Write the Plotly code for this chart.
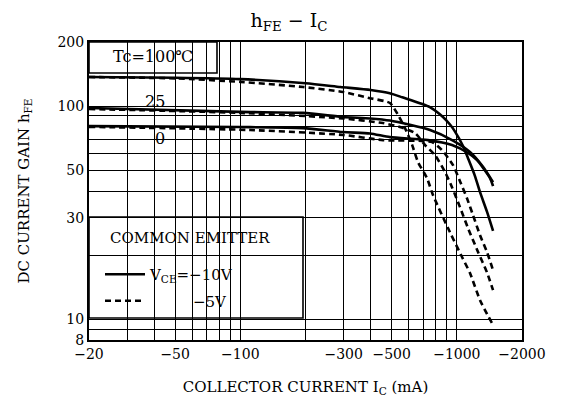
import plotly.graph_objects as go

# ---------------- data (|Ic| in mA, hFE) ----------------
ic_100_10 = [20, 50, 100, 200, 290, 400, 490, 560, 750, 863, 930, 981, 1068, 1126, 1213, 1280, 1378, 1470]
hfe_100_10 = [137, 136, 134, 128, 123, 119, 115, 110, 99, 89, 82, 76, 65, 57, 47, 39.5, 32, 26]

ic_100_5 = [20, 50, 100, 195, 298, 397, 491, 535, 576, 621, 662, 728, 776, 930, 1057, 1150, 1280, 1453]
hfe_100_5 = [137, 135, 130, 123, 116.5, 109, 103.5, 91, 79, 66, 54.6, 46, 38.3, 25.6, 19.6, 16.5, 12.3, 9.6]

ic_25_10 = [20, 100, 195, 298, 397, 491, 752, 960, 1150, 1321, 1470]
hfe_25_10 = [98, 94, 93, 89, 87.6, 85.6, 77.3, 69, 61, 52, 44]

ic_25_5 = [20, 100, 298, 456, 546, 641, 713, 793, 882, 950, 1034, 1126, 1253, 1378, 1470]
hfe_25_5 = [97, 93, 87.6, 83.3, 79.8, 74.8, 65.7, 58.9, 49.1, 41.7, 33.6, 26.8, 20.7, 16.6, 13.7]

ic_0_10 = [20, 100, 195, 298, 397, 491, 736, 950, 1126, 1240, 1423, 1470]
hfe_0_10 = [80.6, 79.8, 78.9, 75.6, 74.5, 71.6, 69.3, 65.7, 60.3, 55.8, 46, 42.2]

ic_0_5 = [20, 111, 298, 456, 768, 854, 960, 1034, 1114, 1188, 1280, 1378, 1470]
hfe_0_5 = [80, 77.3, 73.3, 69.3, 67.8, 62.2, 52.9, 44.5, 37, 30.8, 24.8, 20.7, 17]

x_grid = [20, 30, 40, 50, 60, 70, 80, 90, 100, 200, 300, 400, 500, 600, 700, 800, 900, 1000, 2000]
x_labels = {20: "−20", 50: "−50", 100: "−100", 300: "−300", 500: "−500", 1000: "−1000", 2000: "−2000"}
y_grid = [8, 9, 10, 20, 30, 40, 50, 60, 70, 80, 90, 100, 200]
y_labels = {8: "8", 10: "10", 30: "30", 50: "50", 100: "100", 200: "200"}

FONT = "DejaVu Serif"
LW = 2.6

fig = go.Figure()
curves = [
    (ic_100_10, hfe_100_10, "solid", "V<sub>CE</sub>=−10V", True, "a"),
    (ic_25_10, hfe_25_10, "solid", "", False, "a"),
    (ic_0_10, hfe_0_10, "solid", "", False, "a"),
    (ic_100_5, hfe_100_5, "6px,4px", "\u00a0\u00a0\u00a0\u00a0\u00a0\u00a0\u00a0\u00a0\u00a0−5V", True, "b"),
    (ic_25_5, hfe_25_5, "6px,4px", "", False, "b"),
    (ic_0_5, hfe_0_5, "6px,4px", "", False, "b"),
]
for xs, ys, dash, name, show, grp in curves:
    fig.add_trace(go.Scatter(x=xs, y=ys, mode="lines", name=name, showlegend=show, legendgroup=grp,
                             line=dict(color="black", width=LW, dash=dash, shape="spline", smoothing=0.6)))

fig.update_xaxes(type="log", range=[1.30103, 3.30103], automargin=False,
                 tickvals=x_grid, ticktext=[x_labels.get(v, "") for v in x_grid],
                 showgrid=True, gridcolor="black", gridwidth=1.3,
                 showline=True, linecolor="black", linewidth=2, mirror=True, ticks="",
                 tickfont=dict(family=FONT, size=14, color="black"),
                 title=dict(text="COLLECTOR CURRENT I<sub>C</sub> (mA)", standoff=22,
                            font=dict(family=FONT, size=15, color="black")),
                 zeroline=False)
fig.update_yaxes(type="log", range=[0.90309, 2.30103], automargin=False,
                 tickvals=y_grid, ticktext=[y_labels.get(v, "") for v in y_grid],
                 showgrid=True, gridcolor="black", gridwidth=1.3,
                 showline=True, linecolor="black", linewidth=2, mirror=True, ticks="",
                 tickfont=dict(family=FONT, size=14, color="black"),
                 title=dict(text="DC CURRENT GAIN h<sub>FE</sub>", standoff=24,
                            font=dict(family=FONT, size=15, color="black")),
                 zeroline=False)

W, H = 562, 397
L, R, T, B = 89, 40, 42, 57
pw, ph = W - L - R, H - T - B
def px(xp):
    return (xp - L) / pw
def py(yp):
    return (H - B - yp) / ph

# white boxes hiding grid (Tc label box and legend box)
fig.add_shape(type="rect", xref="paper", yref="paper", x0=0, x1=px(217), y0=py(73), y1=1,
              fillcolor="white", line=dict(color="black", width=1.6), layer="between")
fig.add_shape(type="rect", xref="paper", yref="paper", x0=0, x1=px(303), y0=py(318), y1=py(217),
              fillcolor="white", line=dict(color="black", width=1.6), layer="between")

ann_font = dict(family=FONT, size=16, color="black")
for txt, xp, yp in [("Tc=100℃", 153, 57), ("25", 155, 101), ("0", 160, 138)]:
    fig.add_annotation(text=txt, xref="paper", yref="paper", x=px(xp), y=py(yp),
                       xanchor="center", yanchor="middle", showarrow=False, font=ann_font)

fig.add_annotation(text="COMMON EMITTER", xref="paper", yref="paper", x=px(108), y=py(238),
                   xanchor="left", yanchor="middle", showarrow=False,
                   font=dict(family=FONT, size=15, color="black"))

fig.update_layout(
    width=W, height=H, autosize=False,
    margin=dict(l=L, r=R, t=T, b=B),
    paper_bgcolor="white", plot_bgcolor="white",
    title=dict(text="h<sub>FE</sub> − I<sub>C</sub>", x=289 / W, xanchor="center",
               y=1 - 20 / H, yanchor="middle", font=dict(family=FONT, size=19, color="black")),
    legend=dict(x=px(100), y=py(258), xanchor="left", yanchor="top",
                bgcolor="rgba(0,0,0,0)", borderwidth=0, tracegroupgap=4,
                font=dict(family=FONT, size=15, color="black"), itemwidth=40),
    showlegend=True,
)

fig.write_html("out.html")
